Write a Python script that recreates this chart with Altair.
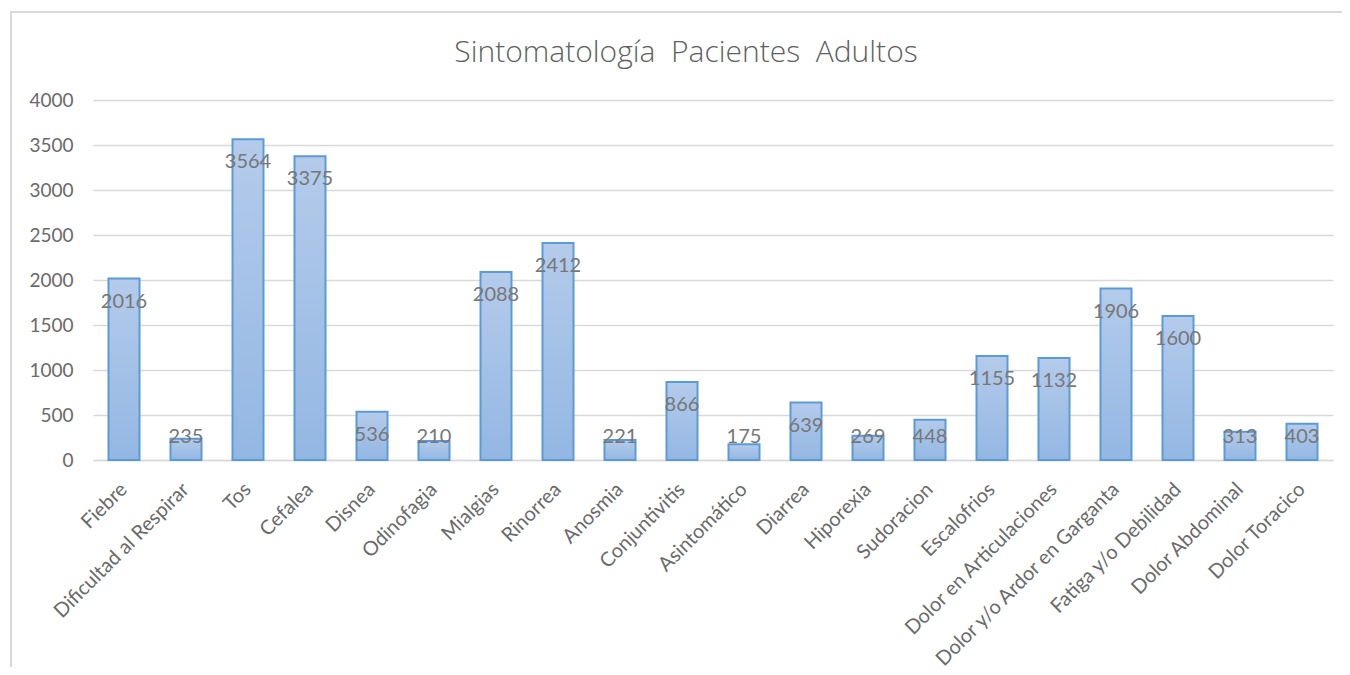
import altair as alt
import pandas as pd

categories = ["Fiebre", "Dificultad al Respirar", "Tos", "Cefalea", "Disnea", "Odinofagia",
              "Mialgias", "Rinorrea", "Anosmia", "Conjuntivitis", "Asintomático", "Diarrea",
              "Hiporexia", "Sudoracion", "Escalofrios", "Dolor en Articulaciones",
              "Dolor y/o Ardor en Garganta", "Fatiga y/o Debilidad", "Dolor Abdominal", "Dolor Toracico"]
values = [2016, 235, 3564, 3375, 536, 210, 2088, 2412, 221, 866, 175, 639,
          269, 448, 1155, 1132, 1906, 1600, 313, 403]

df = pd.DataFrame({"sintoma": categories, "casos": values})

FONT = "Lato"
W, H = 1240, 360

x = alt.X("sintoma:N", sort=categories, title=None,
          scale=alt.Scale(paddingInner=0.5, paddingOuter=0.25),
          axis=alt.Axis(labelAngle=-45, labelAlign="right", labelBaseline="middle",
                        labelFontSize=20, labelColor="#6a6a6a", labelFont=FONT,
                        labelPadding=26, ticks=False, domainColor="#d9d9d9",
                        domainWidth=1.5, labelOverlap=False, labelLimit=400))
y = alt.Y("casos:Q", title=None,
          scale=alt.Scale(domain=[0, 4000], nice=False),
          axis=alt.Axis(values=[0, 500, 1000, 1500, 2000, 2500, 3000, 3500, 4000],
                        format="d",
                        labelFontSize=19, labelColor="#6a6a6a", labelFont=FONT,
                        labelPadding=20, ticks=False, domain=False,
                        gridColor="#d9d9d9", gridWidth=1.5))

bars = alt.Chart(df).mark_bar(
    color=alt.Gradient(gradient="linear",
                       stops=[alt.GradientStop(color="#b4cbeb", offset=0),
                              alt.GradientStop(color="#93b7e3", offset=1)],
                       x1=0, x2=0, y1=0, y2=1),
    stroke="#5b9bd5", strokeWidth=2
).encode(x=x, y=y)

labels = alt.Chart(df).transform_calculate(
    pos="max(datum.casos - 256, 256)"
).mark_text(fontSize=20, font=FONT, color="#777777", baseline="middle", align="center").encode(
    x=alt.X("sintoma:N", sort=categories),
    y=alt.Y("pos:Q"),
    text="casos:Q",
)

border = alt.Chart(pd.DataFrame({"k": [0]})).mark_rect(
    fill=None, stroke="#d9d9d9", strokeWidth=2
).encode(x=alt.value(-82), x2=alt.value(1300), y=alt.value(-88), y2=alt.value(600))

chart = alt.layer(border, bars, labels).properties(
    width=W, height=H,
    title=alt.TitleParams("Sintomatología\u00a0 Pacientes\u00a0 Adultos", fontSize=30,
                          font="Open Sans", fontWeight=300, color="#5f5f5f",
                          anchor="middle", dx=-27, offset=-57),
    padding={"left": 85, "top": 92, "right": 9, "bottom": 207},
    autosize=alt.AutoSizeParams(type="none"),
).configure_view(stroke=None)

chart.save("out.html", embed_options={"renderer": "svg", "actions": False})
